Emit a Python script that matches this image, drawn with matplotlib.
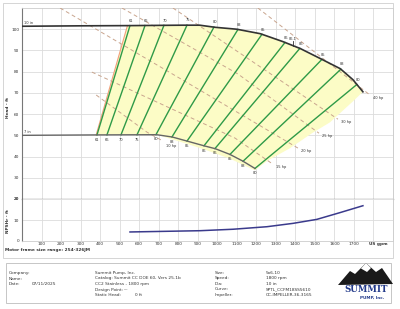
import numpy as np
import matplotlib.pyplot as plt
from matplotlib.patches import Rectangle, Polygon

# impeller curves, US gpm vs ft
q_10in = [0, 300, 550, 820, 910, 990, 1100, 1220, 1335, 1425, 1525, 1630, 1695, 1746]
h_10in = [101.4, 101.6, 101.7, 101.9, 101.9, 100.9, 100.0, 97.9, 94.2, 90.9, 86.3, 81.4, 76.2, 70.5]
q_7in = [0, 380, 690, 770, 845, 935, 990, 1065, 1130, 1193]
h_7in = [50.0, 50.2, 50.3, 49.2, 47.3, 45.0, 43.7, 41.0, 37.9, 34.4]

# efficiency lines: flow where each one meets the 7 in and the 10 in curve
eff_labels = ['61', '66', '70', '75', '80', '83', '85', '86', '86', '85', '83', '80']
eff_q_7in = [384, 435, 507, 589, 686, 768, 845, 932, 988, 1065, 1132, 1193]
eff_q_10in = [553, 630, 727, 845, 983, 1106, 1229, 1347, 1423, 1536, 1633, 1715]
bep_q = 1388
bep_label = '86.1'

# minimum flow line
minflow_q = [380, 540]
minflow_h = [50.2, 101.7]

# outline of the shaded operating area (right side and underside)
edge_q = [1746, 1690, 1577, 1485, 1372, 1260, 1193]
edge_h = [70.4, 65.6, 56.1, 51.0, 43.9, 38.2, 33.5]
under_q = [1193, 1065, 935, 845, 690]
under_h = [33.5, 39.0, 43.3, 46.0, 50.3]

# power lines
hp_labels = ['10 hp', '15 hp', '20 hp', '25 hp', '30 hp', '40 hp']
hp_q = [[380, 640, 722], [358, 1091, 1285], [195, 911, 1413],
        [512, 1106, 1521], [773, 1618], [1208, 1782]]
hp_h = [[69.0, 51.5, 47.3], [79.8, 48.7, 36.4], [110, 71.3, 44.0],
        [110, 78.9, 51.0], [110, 57.6], [110, 69.0]]

# NPSHr
npsh_q = [553, 911, 1081, 1254, 1388, 1510, 1628, 1746]
npsh_ft = [4.3, 4.9, 5.6, 6.8, 8.4, 10.3, 13.5, 16.8]

x_ticks = list(range(100, 1900, 100))

W, H = 400, 309
def P(x, y):
    return (x / W, 1 - y / H)

txt = '#333333'
grid_c = '#dcdcdc'
fs = 3.1
fs_small = 2.6

fig = plt.figure(figsize=(4, 3.09), dpi=100)

ax = fig.add_axes([22 / W, 1 - 199 / H, 371 / W, 191 / H])
axn = fig.add_axes([22 / W, 1 - 241 / H, 371 / W, 42 / H])

# ---- head plot
ax.set_xlim(0, 1900)
ax.set_ylim(20, 110)
ax.set_xticks(x_ticks)
ax.set_xticklabels([])
ax.set_yticks(range(20, 110, 10))
ax.tick_params(length=0, labelsize=fs, colors=txt, pad=2)
ax.grid(color=grid_c, lw=0.6, zorder=0)
ax.set_axisbelow(True)
for s in ['top', 'right']:
    ax.spines[s].set_color('#cccccc')
    ax.spines[s].set_linewidth(0.6)
ax.spines['left'].set_color('#777777')
ax.spines['left'].set_linewidth(0.8)
ax.spines['bottom'].set_color('#555555')
ax.spines['bottom'].set_linewidth(0.9)

# shaded area
top_part = [(q, h) for q, h in zip(q_10in, h_10in) if q > minflow_q[1]]
bot_part = [(q, h) for q, h in zip(q_7in, h_7in) if minflow_q[0] < q < under_q[-1]][::-1]
poly = ([(minflow_q[0], minflow_h[0]), (minflow_q[1], minflow_h[1])] + top_part
        + list(zip(edge_q[1:], edge_h[1:])) + list(zip(under_q[1:], under_h[1:]))
        + bot_part)
ax.add_patch(Polygon(poly, closed=True, facecolor='#fcfcc6', edgecolor='none', zorder=1))

ax.plot(minflow_q, minflow_h, color='#f2a07a', lw=0.8, zorder=3)

for qs, hs, lab in zip(hp_q, hp_h, hp_labels):
    ax.plot(qs, hs, color='#c9a58e', lw=0.7, ls=(0, (4, 3)), zorder=3)
    dy = -3.5 if lab == '10 hp' else -2
    ax.annotate(lab, (qs[-1], hs[-1]), xytext=(2.5, dy), textcoords='offset points',
                ha='left', va='center', fontsize=fs_small, color=txt)

for lab, qa, qb in zip(eff_labels, eff_q_7in, eff_q_10in):
    ha_ = np.interp(qa, q_7in, h_7in)
    hb_ = np.interp(qb, q_10in, h_10in)
    ax.plot([qa, qb], [ha_, hb_], color='#2f9a48', lw=1.0, zorder=4)
    ax.annotate(lab, (qb, hb_), xytext=(1, 2), textcoords='offset points',
                ha='center', va='bottom', fontsize=fs_small, color=txt)
    ax.annotate(lab, (qa, ha_), xytext=(0, -2), textcoords='offset points',
                ha='center', va='top', fontsize=fs_small, color=txt)

h_bep = np.interp(bep_q, q_10in, h_10in)
ax.plot([bep_q, bep_q], [h_bep, h_bep + 2], color='#333333', lw=0.6, zorder=5)
ax.annotate(bep_label, (bep_q, h_bep + 2), xytext=(0, 0.5), textcoords='offset points',
            ha='center', va='bottom', fontsize=fs_small, color=txt)

ax.plot(q_10in, h_10in, color='#333333', lw=1.2, zorder=5)
ax.plot(q_7in, h_7in, color='#666666', lw=1.0, zorder=5)
ax.text(12, h_10in[0] + 0.4, '10 in', fontsize=fs_small, color=txt, va='bottom')
ax.text(12, h_7in[0] + 0.4, '7 in', fontsize=fs_small, color=txt, va='bottom')

# ---- NPSH plot
axn.set_xlim(0, 1900)
axn.set_ylim(0, 20)
axn.set_xticks(x_ticks)
axn.set_xticklabels([str(v) if v < 1800 else '' for v in x_ticks])
axn.set_yticks([0, 10, 20])
axn.tick_params(axis='y', length=0, labelsize=fs, colors=txt, pad=2)
axn.tick_params(axis='x', length=0, labelsize=fs, colors=txt, pad=0.8)
axn.grid(color=grid_c, lw=0.6, zorder=0)
for s in ['right', 'bottom']:
    axn.spines[s].set_color('#cccccc')
    axn.spines[s].set_linewidth(0.6)
axn.spines['top'].set_visible(False)
axn.spines['left'].set_color('#777777')
axn.spines['left'].set_linewidth(0.8)
axn.plot(npsh_q, npsh_ft, color='#3a3a8c', lw=1.1, zorder=3)
axn.text(1823, -0.6, 'US gpm', fontsize=fs, fontweight='bold', color=txt,
         ha='center', va='top')

# ---- labels
fig.text(*P(8, 107), 'Head - ft', rotation=90, fontsize=fs, fontweight='bold',
         color=txt, ha='center', va='center')
fig.text(*P(8, 221), 'NPSHr - ft', rotation=90, fontsize=fs, fontweight='bold',
         color=txt, ha='center', va='center')
fig.text(*P(5, 250), 'Motor frame size range: 254-326JM', fontsize=fs,
         fontweight='bold', color=txt, va='center')

# ---- frames
fig.add_artist(Rectangle(P(3, 258), 390 / W, 255 / H, transform=fig.transFigure,
                         fill=False, edgecolor='#cfcfcf', lw=0.6))
fig.add_artist(Rectangle(P(6, 303), 385 / W, 40 / H, transform=fig.transFigure,
                         fill=False, edgecolor='#bdbdbd', lw=0.6))

# ---- info block
rows = [273, 278.5, 284, 289.5, 295]
for y, s in zip(rows, ['Company:', 'Name:', 'Date:']):
    fig.text(*P(9, y), s, fontsize=fs, color=txt, va='center')
fig.text(*P(32, rows[2]), '07/11/2025', fontsize=fs, color=txt, va='center')
mid = ['Summit Pump, Inc.', 'Catalog: Summit CC DOE 60, Vers 25.1b',
       'CC2 Stainless - 1800 rpm', 'Design Point:', 'Static Head:']
for y, s in zip(rows, mid):
    fig.text(*P(95, y), s, fontsize=fs, color=txt, va='center')
fig.text(*P(124, rows[3]), '---', fontsize=fs, color=txt, va='center')
fig.text(*P(135, rows[4]), '0 ft', fontsize=fs, color=txt, va='center')
for y, s in zip(rows, ['Size:', 'Speed:', 'Dia:', 'Curve:', 'Impeller:']):
    fig.text(*P(215, y), s, fontsize=fs, color=txt, va='center')
vals = ['5x6-10', '1800 rpm', '10 in', 'SPTL_CCFM18SS5610', 'CC-IMPELLER-36-3165']
for y, s in zip(rows, vals):
    fig.text(*P(266, y), s, fontsize=fs, color=txt, va='center')

# ---- logo
mtn = [P(338, 285), P(350, 271), P(355, 274), P(366, 263), P(376, 272),
       P(382, 268), P(393, 284), P(338, 285)]
fig.add_artist(Polygon(mtn, closed=True, transform=fig.transFigure,
                       facecolor='#1a1a1a', edgecolor='none'))
snow = [P(361, 268.5), P(366, 263), P(371, 268), P(367, 272), P(361, 268.5)]
fig.add_artist(Polygon(snow, closed=True, transform=fig.transFigure,
                       facecolor='white', edgecolor='none'))
fig.text(*P(366, 290), 'SUMMIT', fontsize=6.2, fontweight='bold', family='DejaVu Serif',
         color='#233a8a', ha='center', va='center')
fig.text(*P(372, 297.5), 'PUMP, Inc.', fontsize=3.0, fontweight='bold',
         color='#233a8a', ha='center', va='center')

fig.savefig('out.png', dpi=100)
